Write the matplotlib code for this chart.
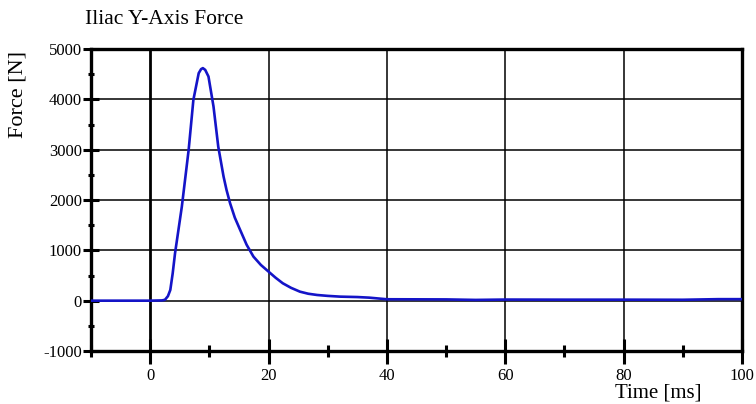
import matplotlib

matplotlib.use("Agg")
import matplotlib.pyplot as plt
from matplotlib.ticker import MultipleLocator

# Iliac Y-axis force trace
time_ms = [-10, 0, 2.0, 2.5, 3.0, 3.4, 3.8, 4.2, 5.35, 6.5, 7.3, 8.2, 8.6, 8.9,
           9.3, 9.85, 10.7, 11.5, 12.4, 12.9, 13.5, 14.3, 15.2, 16.3, 17.45,
           18.7, 20, 21.2, 22.4, 23.8, 25.3, 26.7, 28.2, 30, 32.1, 35, 37, 40,
           50, 55, 60, 70, 80, 90, 96, 100]
force_n = [0, 0, 5, 18, 90, 213, 540, 942, 1870, 2996, 3990, 4520, 4600, 4620,
           4585, 4453, 3857, 3062, 2465, 2200, 1936, 1650, 1406, 1110, 875,
           710, 577, 455, 346, 255, 179, 138, 113, 95, 80, 72, 60, 28,
           25, 15, 22, 20, 20, 18, 30, 30]

x_ticks = [0, 20, 40, 60, 80, 100]
y_ticks = [-1000, 0, 1000, 2000, 3000, 4000, 5000]

plt.rcParams["font.family"] = ["Liberation Serif", "DejaVu Serif"]
plt.rcParams["axes.unicode_minus"] = False

fig = plt.figure(figsize=(7.56, 4.04), dpi=100)
ax = fig.add_axes([91 / 756, 1 - 351 / 404, (742 - 91) / 756, (351 - 49) / 404])

# grid
for xv in x_ticks[:-1]:
    ax.axvline(xv, color="black", lw=2.0 if xv == 0 else 1.1, zorder=1)
for yv in y_ticks[1:-1]:
    ax.axhline(yv, color="black", lw=1.1, zorder=1)

ax.plot(time_ms, force_n, color="#1414c8", lw=1.9, zorder=3)

ax.set_xlim(-10, 100)
ax.set_ylim(-1000, 5000)
ax.set_xticks(x_ticks)
ax.set_yticks(y_ticks)
ax.xaxis.set_minor_locator(MultipleLocator(10))
ax.yaxis.set_minor_locator(MultipleLocator(500))
ax.tick_params(axis="x", which="major", direction="inout", length=18, width=2.2,
               labelsize=12, pad=3)
ax.tick_params(axis="x", which="minor", direction="inout", length=9, width=2.2)
ax.tick_params(axis="y", which="major", direction="inout", length=11, width=2.2,
               labelsize=12, pad=1)
ax.tick_params(axis="y", which="minor", direction="inout", length=5, width=2.2)

for s in ax.spines.values():
    s.set_linewidth(2.4)

fig.text(85 / 756, 1 - 20 / 404, "Iliac Y-Axis Force", fontsize=15.5,
         ha="left", va="center")
fig.text(18 / 756, 1 - 95 / 404, "Force [N]", fontsize=16, rotation=90,
         ha="center", va="center")
fig.text(658 / 756, 1 - 393 / 404, "Time [ms]", fontsize=15,
         ha="center", va="center")

fig.savefig("out.png", dpi=100)
